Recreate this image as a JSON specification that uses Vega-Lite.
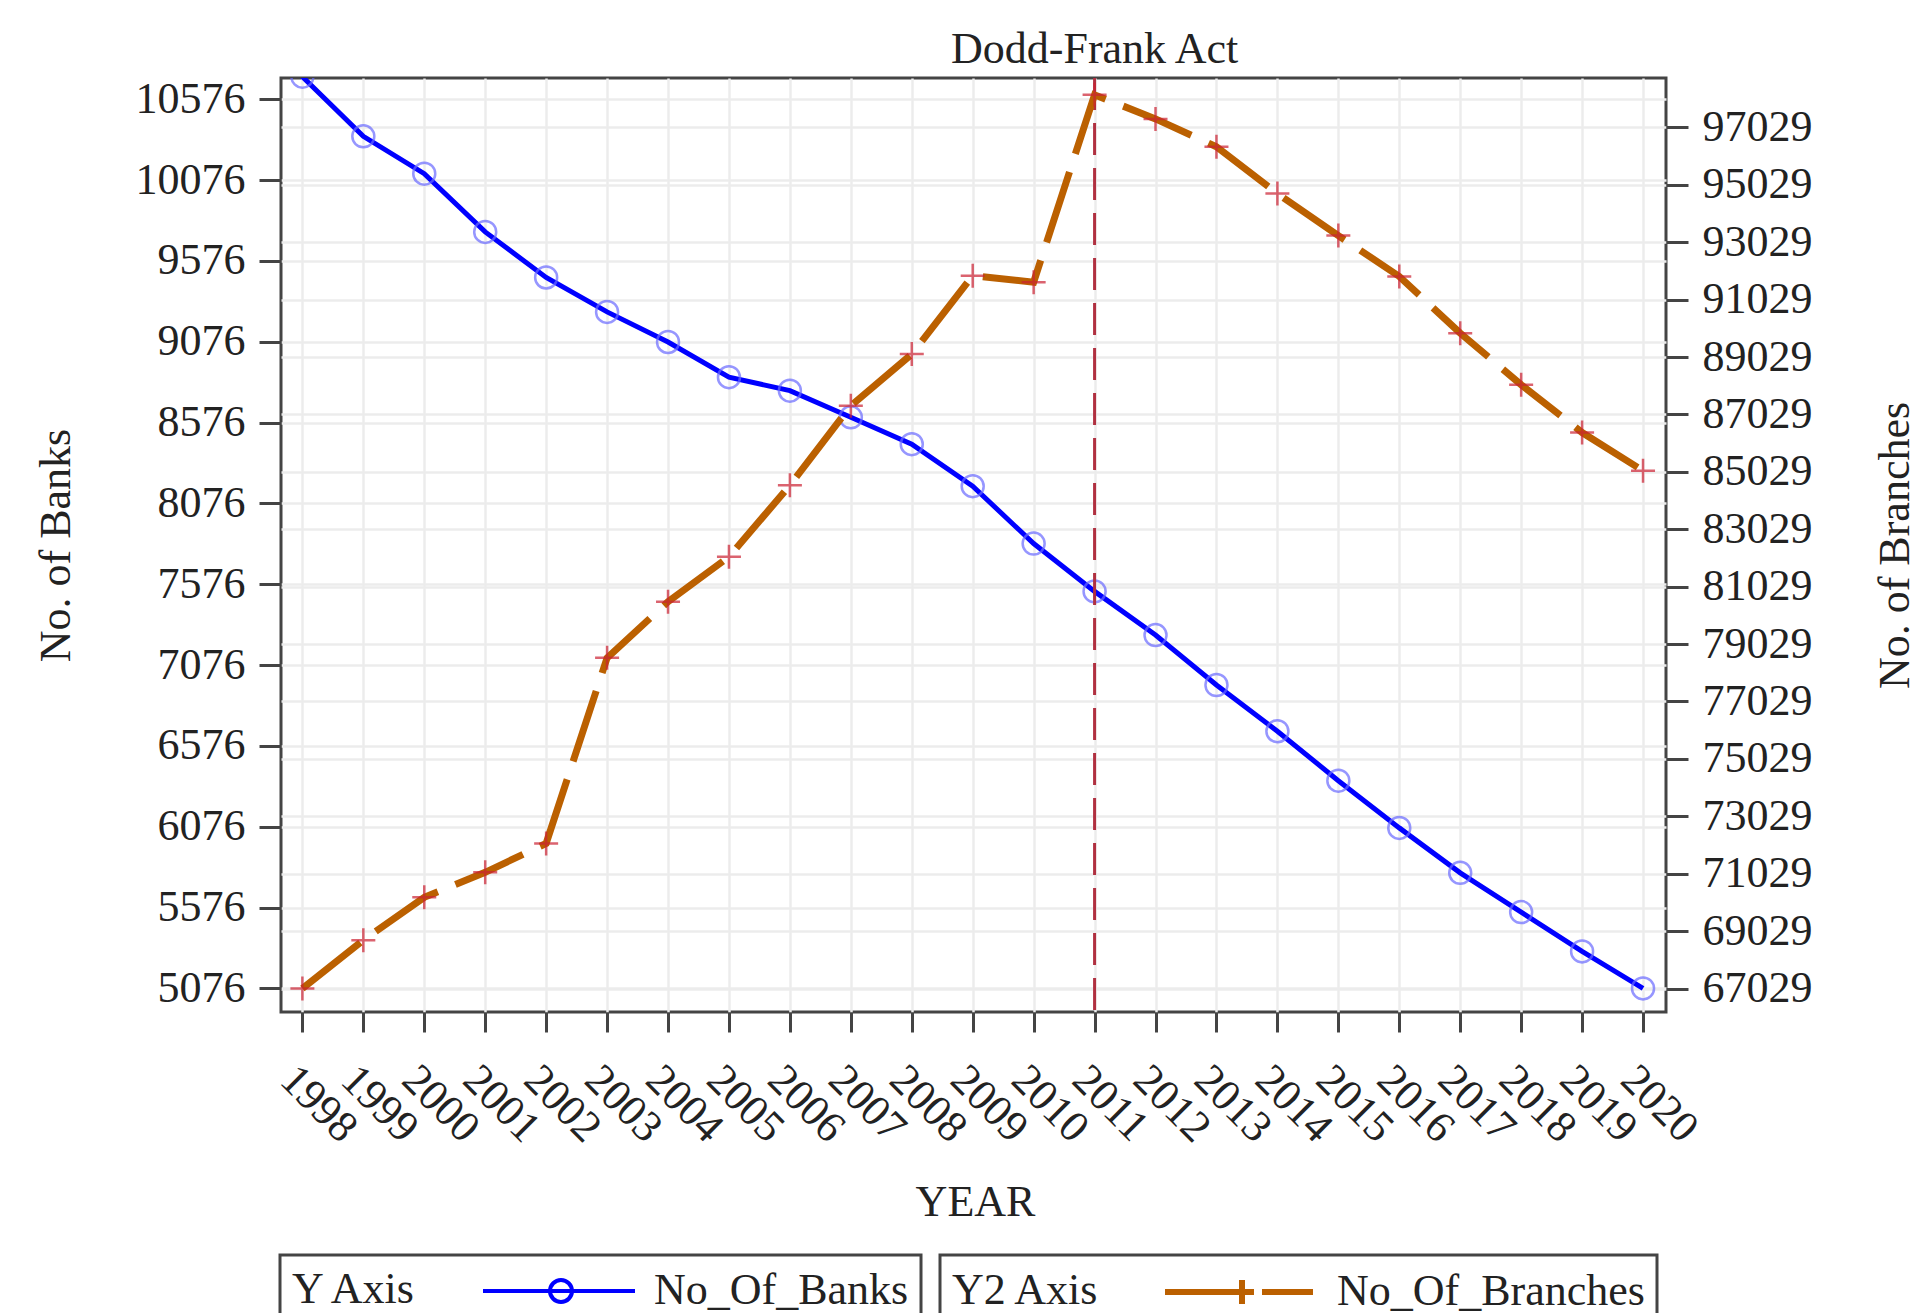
{
  "$schema": "https://vega.github.io/schema/vega-lite/v6.json",
  "autosize": {"type": "none"},
  "padding": {"left": 281, "top": 78, "right": 245, "bottom": 301},
  "width": 1385,
  "height": 934,
  "background": "white",
  "config": {
    "font": "Liberation Serif",
    "view": {"stroke": "#444444", "strokeWidth": 3},
    "legend": {"strokeWidth": 3, "labelLimit": 0}
  },
  "data": {
    "values": [
      {"year": 1998, "banks": 10716, "branches": 67029},
      {"year": 1999, "banks": 10347, "branches": 68714},
      {"year": 2000, "banks": 10116, "branches": 70208},
      {"year": 2001, "banks": 9756, "branches": 71078},
      {"year": 2002, "banks": 9474, "branches": 72084},
      {"year": 2003, "banks": 9261, "branches": 78549},
      {"year": 2004, "banks": 9075, "branches": 80503},
      {"year": 2005, "banks": 8857, "branches": 82069},
      {"year": 2006, "banks": 8774, "branches": 84559},
      {"year": 2007, "banks": 8609, "branches": 87330},
      {"year": 2008, "banks": 8443, "branches": 89130},
      {"year": 2009, "banks": 8183, "branches": 91863},
      {"year": 2010, "banks": 7828, "branches": 91636},
      {"year": 2011, "banks": 7532, "branches": 98164},
      {"year": 2012, "banks": 7262, "branches": 97325},
      {"year": 2013, "banks": 6953, "branches": 96351},
      {"year": 2014, "banks": 6667, "branches": 94724},
      {"year": 2015, "banks": 6361, "branches": 93259},
      {"year": 2016, "banks": 6069, "branches": 91835},
      {"year": 2017, "banks": 5791, "branches": 89861},
      {"year": 2018, "banks": 5548, "branches": 88064},
      {"year": 2019, "banks": 5305, "branches": 86397},
      {"year": 2020, "banks": 5076, "branches": 85067}
    ]
  },
  "encoding": {
    "x": {
      "field": "year",
      "type": "quantitative",
      "scale": {"domain": [1997.649, 2020.377], "nice": false, "zero": false},
      "axis": {
        "orient": "bottom",
        "values": [1998, 1999, 2000, 2001, 2002, 2003, 2004, 2005, 2006, 2007, 2008, 2009, 2010, 2011, 2012, 2013, 2014, 2015, 2016, 2017, 2018, 2019, 2020],
        "format": "d",
        "domain": false,
        "grid": true,
        "gridColor": "#ececec",
        "gridWidth": 2.5,
        "tickSize": 20,
        "tickWidth": 3,
        "tickColor": "#444444",
        "labelAngle": 45,
        "labelAlign": "left",
        "labelBaseline": "top",
        "labelPadding": 25,
        "labelFontSize": 44,
        "labelColor": "#222222",
        "labelOverlap": false,
        "labelFlush": false,
        "title": "YEAR",
        "titleFontSize": 44,
        "titleFontWeight": "normal",
        "titleColor": "#222222",
        "titleAngle": 0,
        "titleAlign": "center",
        "titleBaseline": "alphabetic",
        "titleX": 694,
        "titleY": 203
      }
    }
  },
  "layer": [
    {
      "layer": [
        {
          "mark": {"type": "line", "strokeWidth": 5, "clip": true},
          "encoding": {
            "y": {
              "field": "banks",
              "type": "quantitative",
              "scale": {"domain": [4930, 10708], "nice": false, "zero": false},
              "axis": {
                "orient": "left",
                "values": [5076, 5576, 6076, 6576, 7076, 7576, 8076, 8576, 9076, 9576, 10076, 10576],
                "format": "d",
                "domain": false,
                "grid": true,
                "gridColor": "#ececec",
                "gridWidth": 2.5,
                "tickSize": 22,
                "tickWidth": 3,
                "tickColor": "#444444",
                "labelPadding": 14,
                "labelFontSize": 44,
                "labelColor": "#222222",
                "labelOverlap": false,
                "labelFlush": false,
                "title": "No. of Banks",
                "titleFontSize": 44,
                "titleFontWeight": "normal",
                "titleColor": "#222222",
                "titleAngle": 270,
                "titleAlign": "center",
                "titleBaseline": "alphabetic",
                "titleX": -212,
                "titleY": 467
              }
            },
            "color": {
              "datum": "No_Of_Banks",
              "type": "nominal",
              "scale": {"domain": ["No_Of_Banks"], "range": ["#0000ff"]},
              "legend": {
                "title": "Y Axis",
                "orient": "none",
                "legendX": -1,
                "legendY": 1177,
                "direction": "horizontal",
                "titleOrient": "left",
                "titleFontSize": 44,
                "titleFontWeight": "normal",
                "titleColor": "#222222",
                "titlePadding": 63,
                "labelFontSize": 44,
                "labelColor": "#222222",
                "labelLimit": 0,
                "labelOffset": 125,
                "symbolType": "M-1,0H5.909M3.045,0A0.5,0.5 0 1 1 2.045,0A0.5,0.5 0 1 1 3.045,0",
                "symbolSize": 1936,
                "symbolStrokeWidth": 4,
                "symbolFillColor": "transparent",
                "strokeColor": "#444444",
                "fillColor": "white",
                "padding": 12
              }
            }
          }
        },
        {
          "mark": {"type": "point", "shape": "circle", "filled": false, "size": 484, "stroke": "#6a6aff", "strokeWidth": 2.5, "clip": true},
          "encoding": {
            "y": {"field": "banks", "type": "quantitative", "scale": {"domain": [4930, 10708], "nice": false, "zero": false}}
          }
        },
        {
          "data": {"values": [{"year": 2011, "label": "Dodd-Frank Act"}]},
          "mark": {"type": "rule", "stroke": "#b03040", "strokeWidth": 3, "strokeDash": [32, 13]},
          "encoding": {}
        },
        {
          "data": {"values": [{"year": 2011, "label": "Dodd-Frank Act"}]},
          "mark": {"type": "text", "fontSize": 44, "color": "#222222", "align": "center", "baseline": "alphabetic", "dy": -15},
          "encoding": {
            "y": {"datum": 10708, "type": "quantitative", "scale": {"domain": [4930, 10708], "nice": false, "zero": false}},
            "text": {"field": "label"}
          }
        }
      ]
    },
    {
      "layer": [
        {
          "mark": {"type": "line", "strokeWidth": 7, "strokeDash": [74, 19]},
          "encoding": {
            "y": {
              "field": "branches",
              "type": "quantitative",
              "scale": {"domain": [66211, 98749], "nice": false, "zero": false},
              "axis": {
                "orient": "right",
                "values": [67029, 69029, 71029, 73029, 75029, 77029, 79029, 81029, 83029, 85029, 87029, 89029, 91029, 93029, 95029, 97029],
                "format": "d",
                "domain": false,
                "grid": true,
                "gridColor": "#ececec",
                "gridWidth": 2.5,
                "tickSize": 22,
                "tickWidth": 3,
                "tickColor": "#444444",
                "labelPadding": 14,
                "labelFontSize": 44,
                "labelColor": "#222222",
                "labelOverlap": false,
                "labelFlush": false,
                "title": "No. of Branches",
                "titleFontSize": 44,
                "titleFontWeight": "normal",
                "titleColor": "#222222",
                "titleAngle": 270,
                "titleAlign": "center",
                "titleBaseline": "alphabetic",
                "titleX": 242,
                "titleY": 467
              }
            },
            "color": {
              "datum": "No_Of_Branches",
              "type": "nominal",
              "scale": {"domain": ["No_Of_Branches"], "range": ["#bb6000"]},
              "legend": {
                "title": "Y2 Axis",
                "orient": "none",
                "legendX": 659,
                "legendY": 1177,
                "direction": "horizontal",
                "titleOrient": "left",
                "titleFontSize": 44,
                "titleFontWeight": "normal",
                "titleColor": "#222222",
                "titlePadding": 62,
                "labelFontSize": 44,
                "labelColor": "#222222",
                "labelLimit": 0,
                "labelOffset": 125,
                "symbolType": "M-1,0H2.318M3.409,0H5.727M1.955,0H3.045M2.5,-0.545V0.545",
                "symbolSize": 1936,
                "symbolStrokeWidth": 6,
                "symbolFillColor": "transparent",
                "strokeColor": "#444444",
                "fillColor": "white",
                "padding": 12
              }
            }
          }
        },
        {
          "mark": {"type": "point", "shape": "M-1,0H1M0,-1V1", "filled": false, "size": 576, "stroke": "#cc2233", "strokeWidth": 2.5},
          "encoding": {
            "y": {"field": "branches", "type": "quantitative", "scale": {"domain": [66211, 98749], "nice": false, "zero": false}}
          }
        }
      ]
    }
  ],
  "resolve": {
    "scale": {"y": "independent", "color": "independent"},
    "legend": {"color": "independent"}
  }
}
